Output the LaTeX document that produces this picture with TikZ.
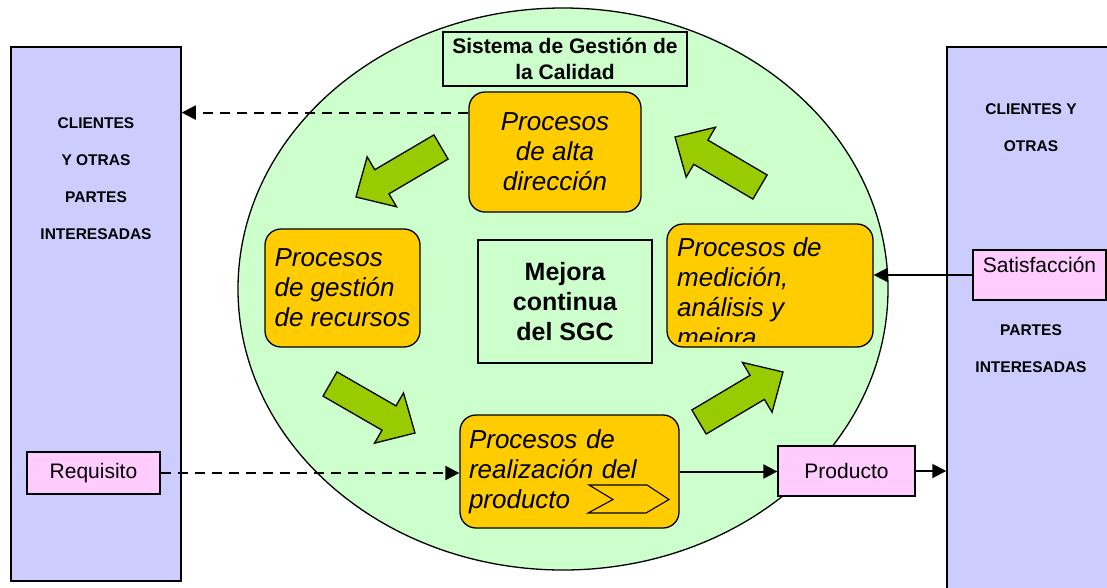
\documentclass[tikz,border=0pt]{standalone}
\usepackage{fontspec}
\setmainfont{Liberation Sans}
\usetikzlibrary{arrows.meta,calc,shapes.geometric}

\definecolor{lila}{HTML}{CCCCFF}
\definecolor{verdeclaro}{HTML}{CCFFCC}
\definecolor{naranja}{HTML}{FFCC00}
\definecolor{rosa}{HTML}{FFCCFF}
\definecolor{verde}{HTML}{99CC00}

\tikzset{
  lateral/.style={draw, fill=lila, line width=1.5pt, minimum width=170pt, minimum height=534pt},
  proceso/.style={draw, fill=naranja, rounded corners=16pt, line width=1.3pt,
    font=\fontsize{26}{30}\selectfont\itshape, inner sep=0pt},
  caja/.style={draw, fill=verdeclaro, line width=1.3pt, align=center, inner sep=0pt},
  etiqueta/.style={draw, fill=rosa, line width=1.3pt, font=\fontsize{21}{25}\selectfont, inner sep=0pt},
  titulo/.style={font=\fontsize{15.5}{37}\selectfont\bfseries, align=center},
  flecha/.style={draw, fill=verde, line width=1.3pt, line join=miter},
  punta/.style={-{Triangle[length=14pt,width=14pt]}, line width=2pt},
  punteada/.style={punta, dash pattern=on 10pt off 7pt},
}

% flecha verde gruesa: cola, punta
\newcommand{\flechaVerde}[2]{%
  \coordinate (fb) at ($(#2)!30pt!(#1)$);
  \draw[flecha] ($(#1)!14pt!90:(#2)$) -- ($(fb)!14pt!90:(#2)$) -- ($(fb)!29pt!90:(#2)$) -- (#2)
    -- ($(fb)!29pt!-90:(#2)$) -- ($(fb)!14pt!-90:(#2)$) -- ($(#1)!14pt!-90:(#2)$) -- cycle;
}

\begin{document}
\begin{tikzpicture}[x=1pt,y=-1pt]
\useasboundingbox (0,0) rectangle (1107,587);

% partes interesadas
\node[lateral] (clientesL) at (96,314) {};
\node[lateral, minimum width=164pt, minimum height=548pt] (clientesR) at (1029,321) {};
\node[titulo] (textoL) at (96,179) {CLIENTES\\Y OTRAS\\PARTES\\INTERESADAS};
\node[titulo] (textoR1) at (1031,128) {CLIENTES Y\\OTRAS};
\node[titulo] (textoR2) at (1031,349) {PARTES\\INTERESADAS};

% sistema de gestion
\node[ellipse, draw, fill=verdeclaro, line width=1.3pt, minimum width=650pt, minimum height=562pt, inner sep=0pt] (sgc) at (563,289) {};
\node[caja, font=\fontsize{21}{26}\selectfont\bfseries, minimum width=244pt, minimum height=54pt] (sistema) at (565,59) {Sistema de Gestión de\\la Calidad};
\node[caja, font=\fontsize{25}{30}\selectfont\bfseries, minimum width=174pt, minimum height=123pt] (mejora) at (565,301.5) {Mejora\\continua\\del SGC};

% procesos
\node[proceso, align=center, minimum width=172pt, minimum height=120pt] (alta) at (555,152) {Procesos\\de alta\\dirección};
\node[proceso, align=left, minimum width=155pt, minimum height=118pt] (recursos) at (342.5,288) {Procesos\\de gestión\\de recursos};
\node[proceso, align=left, text width=201pt, inner xsep=9pt, minimum height=113pt] (realizacion) at (569.5,471.5) {Procesos de\\realización del\\producto};
\node[proceso, minimum width=206pt, minimum height=123pt] (medicion) at (770,285.5) {};
\begin{scope}
  \clip (medicion.north west) rectangle ($(medicion.south east)+(0,-6)$);
  \node[font=\fontsize{26}{30}\selectfont\itshape, align=left, anchor=north west, inner sep=0pt] (textoMed) at (677,237) {Procesos de\\medición,\\análisis y\\mejora};
\end{scope}
\draw[fill=naranja, line width=1.1pt] (589,485) -- (647,485) -- (669,499.5) -- (646,513) -- (588,513) -- (613,499.5) -- cycle;

% ciclo de mejora
\coordinate (c1) at (441,147); \coordinate (p1) at (356,197);
\coordinate (c2) at (330,384); \coordinate (p2) at (415,433);
\coordinate (c3) at (699,422); \coordinate (p3) at (783,372);
\coordinate (c4) at (760,187); \coordinate (p4) at (675,137);
\foreach \a/\b in {c1/p1,c2/p2,c3/p3,c4/p4} {\flechaVerde{\a}{\b}}

% entradas y salidas
\node[etiqueta, minimum width=133pt, minimum height=42pt] (requisito) at (93.5,473) {Requisito};
\node[etiqueta, minimum width=137pt, minimum height=50pt] (producto) at (846.5,471) {Producto};
\node[etiqueta, minimum width=133pt, text height=19pt, text depth=25pt, inner ysep=3pt] (satisfaccion) at (1039.5,275) {Satisfacción};

\coordinate (salida) at ($(alta.north west)!0.175!(alta.south west)$);
\draw[punteada] (salida) -- (salida -| clientesL.east);
\draw[punteada] (requisito.east) -- (requisito.east -| realizacion.west);
\draw[punta] (realizacion.east) -- (realizacion.east -| producto.west);
\draw[punta] (producto.east) -- (producto.east -| clientesR.west);
\draw[punta] (satisfaccion.west) -- (satisfaccion.west -| medicion.east);
\end{tikzpicture}
\end{document}
